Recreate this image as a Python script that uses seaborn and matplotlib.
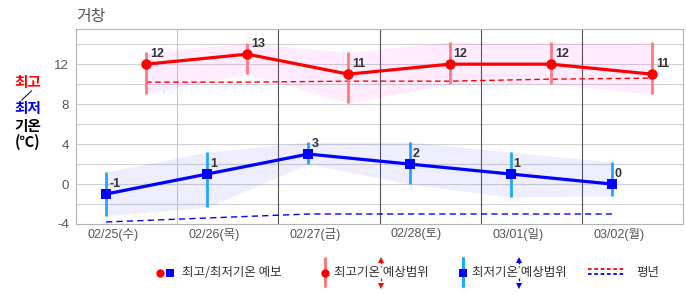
import numpy as np
import pandas as pd
import matplotlib
matplotlib.use("Agg")
import matplotlib.pyplot as plt
import seaborn as sns

# ---- data ----
dates = ['02/25(수)', '02/26(목)', '02/27(금)', '02/28(토)', '03/01(일)', '03/02(월)']
max_temp = [12, 13, 11, 12, 12, 11]
min_temp = [-1, 1, 3, 2, 1, 0]
max_hi = [13.2, 14.1, 13.2, 14.2, 14.2, 14.2]
max_lo = [9.0, 11.0, 8.1, 10.0, 10.0, 9.0]
min_hi = [1.2, 3.2, 4.2, 4.2, 3.2, 2.2]
min_lo = [-3.2, -2.3, 2.0, 0.0, -1.3, -1.2]
norm_max = [10.2, 10.2, 10.3, 10.3, 10.5, 10.6]
norm_min = [-3.8, -3.4, -3.0, -3.0, -3.0, -3.0]
y_ticks = [-4, 0, 4, 8, 12]

sns.set_theme(style="white")
plt.rcParams['font.family'] = ['Liberation Sans', 'Noto Sans CJK KR', 'DejaVu Sans']

day = np.arange(len(dates))
x_max = day + 0.693
x_min = day + 0.297
x_lab = day + 0.366

df_max = pd.DataFrame({'x': x_max, 'v': max_temp, 'n': norm_max})
df_min = pd.DataFrame({'x': x_min, 'v': min_temp, 'n': norm_min})

fig = plt.figure(figsize=(6.86, 2.95), dpi=100)
W, H = 686, 295
ax = fig.add_axes([76 / W, 71 / H, 607 / W, (224 - 28.7) / H])
ax.set_xlim(0, 6)
ax.set_ylim(-4, 15.55)

for yv in np.arange(-2, 16, 2):
    ax.axhline(yv, color='#d2d2d2', lw=0.8, zorder=0)
ax.axvline(1, color='#c8c8c8', lw=0.8, zorder=0.5)
for xv in [2, 3, 4, 5]:
    ax.axvline(xv, color='#555555', lw=0.8, zorder=0.5)

# bands
ax.fill_between(x_max, max_lo, max_hi, color='#ff00ff', alpha=0.07, lw=0, zorder=1)
ax.fill_between(x_min, min_lo, min_hi, color='#4a4aff', alpha=0.09, lw=0, zorder=1)

# normals
sns.lineplot(data=df_max, x='x', y='n', ax=ax, color='red', lw=1.0,
             linestyle=(0, (4, 2.5)), zorder=2)
sns.lineplot(data=df_min, x='x', y='n', ax=ax, color='blue', lw=1.0,
             linestyle=(0, (4.5, 3)), zorder=2)

# range bars
ax.vlines(x_max, max_lo, max_hi, color='#ff7b7b', lw=2.0, zorder=3)
ax.vlines(x_min, min_lo, min_hi, color='#1ea8ff', lw=2.0, zorder=3)

# main lines
sns.lineplot(data=df_max, x='x', y='v', ax=ax, color='red', lw=2.3,
             marker='o', markersize=7.5, markeredgewidth=0, zorder=5)
sns.lineplot(data=df_min, x='x', y='v', ax=ax, color='blue', lw=2.3,
             marker='s', markersize=7.2, markeredgewidth=0, zorder=5)

for xi, v in zip(x_max, max_temp):
    ax.annotate(str(v), (xi, v), xytext=(4, 10), textcoords='offset pixels',
                ha='left', va='center', fontsize=9, fontweight='bold', color='#333333', zorder=6)
for xi, v in zip(x_min, min_temp):
    ax.annotate(str(v), (xi, v), xytext=(3, 10), textcoords='offset pixels',
                ha='left', va='center', fontsize=9, fontweight='bold', color='#333333', zorder=6)

ax.set_xticks(x_lab)
ax.set_xticklabels(dates)
ax.set_yticks(y_ticks)
ax.set_yticklabels([str(t) for t in y_ticks])
ax.tick_params(axis='x', length=0, pad=3, labelsize=9, labelcolor='#555555')
ax.tick_params(axis='y', length=0, pad=5, labelsize=9.5, labelcolor='#555555')
ax.set_xlabel('')
ax.set_ylabel('')
for s in ax.spines.values():
    s.set_color('#b4b4b4')
    s.set_linewidth(0.8)

# overlay for title, side label, legend
lax = fig.add_axes([0, 0, 1, 1], zorder=10)
lax.set_xlim(0, W)
lax.set_ylim(H, 0)
lax.axis('off')
lax.patch.set_alpha(0)

kf = ['Noto Sans CJK KR', 'DejaVu Sans']
lax.text(76, 16, '거창', fontsize=11.5, color='#555555', ha='left', va='center', family=kf)

sfs = 10.5
lax.text(28, 82, '최고', fontsize=sfs, color='red', fontweight='bold', ha='center', va='center', family=kf)
lax.plot([21.7, 31.7], [100, 90.7], color='black', lw=0.7)
lax.text(28, 108.5, '최저', fontsize=sfs, color='blue', fontweight='bold', ha='center', va='center', family=kf)
lax.text(28, 126.5, '기온', fontsize=sfs, color='black', fontweight='bold', ha='center', va='center', family=kf)
lax.text(28, 142, '(℃)', fontsize=sfs, color='black', fontweight='bold', ha='center', va='center', family=kf)

ly = 272.5
lfs = 9
# item 1
lax.plot([160], [ly], marker='o', color='red', markersize=6, markeredgewidth=0)
lax.plot([170], [ly], marker='s', color='blue', markersize=5.5, markeredgewidth=0)
lax.text(181.5, ly, '최고/최저기온 예보', fontsize=lfs, color='#333333', ha='left', va='center', family=kf)
# item 2
lax.plot([325, 325], [258, 286], color='#ff7b7b', lw=2.2)
lax.plot([325], [ly], marker='o', color='red', markersize=6, markeredgewidth=0)
lax.text(333.5, ly, '최고기온 예상범위', fontsize=lfs, color='#333333', ha='left', va='center', family=kf)
ax_r = 381
lax.plot([ax_r, ax_r], [261, 267], color='red', lw=1.0, linestyle=(0, (2, 1.5)))
lax.plot([ax_r, ax_r], [278, 284], color='red', lw=1.0, linestyle=(0, (2, 1.5)))
lax.plot([ax_r], [259.5], marker='^', color='red', markersize=5, markeredgewidth=0)
lax.plot([ax_r], [286], marker='v', color='red', markersize=5, markeredgewidth=0)
# item 3
lax.plot([463, 463], [258, 286], color='#1ea8ff', lw=2.2)
lax.plot([463], [ly], marker='s', color='blue', markersize=5.5, markeredgewidth=0)
lax.text(472.5, ly, '최저기온 예상범위', fontsize=lfs, color='#333333', ha='left', va='center', family=kf)
ax_b = 519
lax.plot([ax_b, ax_b], [261, 267], color='blue', lw=1.0, linestyle=(0, (2, 1.5)))
lax.plot([ax_b, ax_b], [278, 284], color='blue', lw=1.0, linestyle=(0, (2, 1.5)))
lax.plot([ax_b], [259.5], marker='^', color='blue', markersize=5, markeredgewidth=0)
lax.plot([ax_b], [286], marker='v', color='blue', markersize=5, markeredgewidth=0)
# item 4
lax.plot([588, 625], [269.3, 269.3], color='red', lw=1.3, linestyle=(0, (2, 1.5)))
lax.plot([588, 625], [274.3, 274.3], color='blue', lw=1.3, linestyle=(0, (2, 1.5)))
lax.text(636.5, ly, '평년', fontsize=lfs, color='#333333', ha='left', va='center', family=kf)

fig.savefig('out.png', dpi=100)
